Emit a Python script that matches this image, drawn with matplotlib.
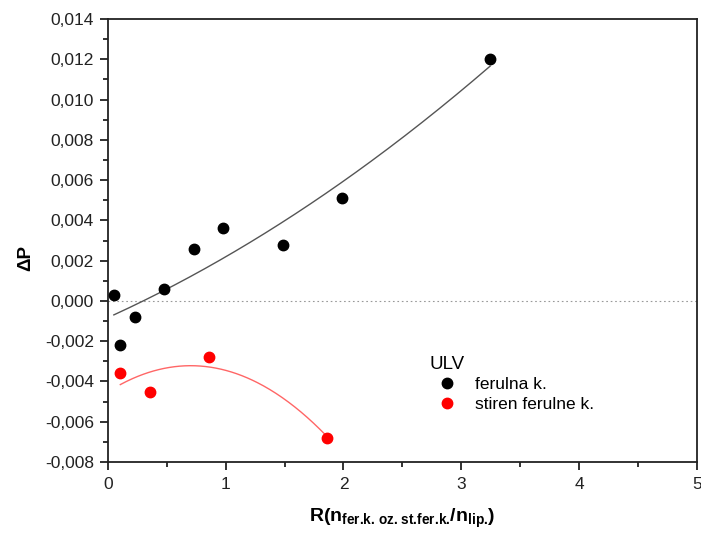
import numpy as np
import matplotlib
matplotlib.use('Agg')
import matplotlib.pyplot as plt
from matplotlib.ticker import MultipleLocator, FuncFormatter

plt.rcParams['font.family'] = ['Liberation Sans', 'DejaVu Sans']
plt.rcParams['mathtext.fontset'] = 'custom'
plt.rcParams['mathtext.rm'] = 'Liberation Sans:bold'
plt.rcParams['mathtext.bf'] = 'Liberation Sans:bold'

# ferulna kislina
r_fer = [0.05, 0.105, 0.23, 0.475, 0.73, 0.98, 1.486, 1.99, 3.245]
dp_fer = [0.0003, -0.0022, -0.0008, 0.0006, 0.0026, 0.0036, 0.0028, 0.0051, 0.0120]

# stiren ferulne kisline
r_st = [0.105, 0.355, 0.86, 1.86]
dp_st = [-0.0036, -0.0045, -0.0028, -0.0068]

fig = plt.figure(figsize=(7.01, 5.36), dpi=100)
ax = fig.add_axes([0.154, 0.138, 0.840, 0.8266])

# second order fits
p_fer = np.polyfit(r_fer, dp_fer, 2)
xf = np.linspace(min(r_fer), max(r_fer), 200)
ax.plot(xf, np.polyval(p_fer, xf), color='#555555', lw=1.0, zorder=2)

p_st = np.polyfit(r_st, dp_st, 2)
xs = np.linspace(min(r_st), max(r_st), 200)
ax.plot(xs, np.polyval(p_st, xs), color='#ff6666', lw=1.0, zorder=2)

ax.axhline(0, color='#999999', lw=0.8, ls=(0, (1.5, 2.5)), zorder=1)

ax.plot(r_fer, dp_fer, 'o', color='black', ms=7.5, ls='none', label='ferulna k.', zorder=3)
ax.plot(r_st, dp_st, 'o', color='#ff0000', ms=7.5, ls='none', label='stiren ferulne k.', zorder=3)

ax.set_xlim(0, 5)
ax.set_ylim(-0.008, 0.014)
ax.xaxis.set_major_locator(MultipleLocator(1))
ax.xaxis.set_minor_locator(MultipleLocator(0.5))
ax.yaxis.set_major_locator(MultipleLocator(0.002))
ax.yaxis.set_minor_locator(MultipleLocator(0.001))
ax.yaxis.set_major_formatter(FuncFormatter(lambda v, p: '{:.3f}'.format(v).replace('.', ',').replace('-0,000', '0,000')))
ax.xaxis.set_major_formatter(FuncFormatter(lambda v, p: '{:d}'.format(int(round(v)))))

ax.tick_params(which='both', direction='out', top=False, right=False, width=1.3, labelsize=12.5, colors='#222222')
ax.tick_params(which='major', length=6)
ax.tick_params(which='minor', length=3.5)
ax.tick_params(axis='x', pad=5)
ax.tick_params(axis='y', pad=4)
for s in ax.spines.values():
    s.set_linewidth(1.3)
    s.set_color('#222222')

ax.set_ylabel('ΔP', fontsize=13.5, fontweight='bold')
ax.yaxis.set_label_coords(-0.125, 0.46)
ax.set_xlabel(r'R(n$_{\text{fer.k. oz. st.fer.k.}}$/n$_{\text{lip.}}$)', fontsize=14,
              fontweight='bold', labelpad=10)

leg = ax.legend(title='ULV', loc='upper left', bbox_to_anchor=(0.535, 0.255), frameon=False,
                fontsize=12.5, title_fontsize=13.5, handletextpad=0.6, borderaxespad=0, labelspacing=0.25)
leg._legend_box.align = 'left'

plt.savefig('out.png', dpi=100)
